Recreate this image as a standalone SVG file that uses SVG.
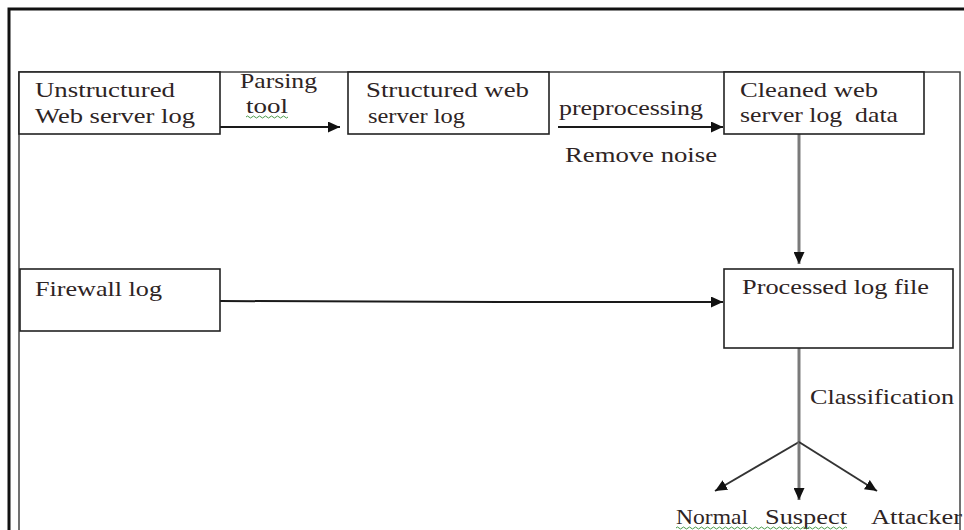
<svg xmlns="http://www.w3.org/2000/svg" width="964" height="530" viewBox="0 0 964 530">
<defs>
<style>
.box{fill:#fff;stroke:#222;stroke-width:1.6}
.t{font-family:"Liberation Serif","Times New Roman",serif;font-size:21px;fill:#2e2424}
.ln{fill:none;stroke:#1a1a1a;stroke-width:2}
.gr{fill:none;stroke:#7a7a7a;stroke-width:3}
.br{fill:none;stroke:#333;stroke-width:2}
.wave{fill:none;stroke:#4a9a4a;stroke-width:1}
</style>
<marker id="ah" markerUnits="userSpaceOnUse" markerWidth="13" markerHeight="11" refX="12" refY="5.5" orient="auto">
<path d="M0,0 L12,5.5 L0,11 z" fill="#111"/>
</marker>
</defs>
<rect width="964" height="530" fill="#fff"/>
<g id="frame">
<path d="M9,540 V9 H970" fill="none" stroke="#111" stroke-width="3"/>
<path d="M19,540 V72 H960 V540" fill="none" stroke="#444" stroke-width="1.5"/>
</g>
<g id="connectors">
<line class="ln" x1="220" y1="127" x2="340" y2="127" marker-end="url(#ah)"/>
<line class="ln" x1="558" y1="127" x2="723" y2="127" marker-end="url(#ah)"/>
<line class="gr" x1="799" y1="134" x2="799" y2="264" marker-end="url(#ah)"/>
<path class="ln" d="M220,301 L500,302 L723,302" marker-end="url(#ah)"/>
<line class="gr" x1="799" y1="348" x2="799" y2="442"/>
<line class="br" x1="799" y1="442" x2="715" y2="491" marker-end="url(#ah)"/>
<line class="gr" x1="799" y1="442" x2="799" y2="500" marker-end="url(#ah)"/>
<line class="br" x1="799" y1="442" x2="877" y2="491" marker-end="url(#ah)"/>
<text class="t" x="240" y="88" textLength="77" lengthAdjust="spacingAndGlyphs">Parsing</text>
<text class="t" x="246" y="113" textLength="42" lengthAdjust="spacingAndGlyphs">tool</text>
<path class="wave" d="M246,117 q1.5,-2 3,0 t3,0 t3,0 t3,0 t3,0 t3,0 t3,0 t3,0 t3,0 t3,0 t3,0 t3,0 t3,0 t3,0"/>
<text class="t" x="559" y="115" textLength="144" lengthAdjust="spacingAndGlyphs">preprocessing</text>
<text class="t" x="565" y="162" textLength="152" lengthAdjust="spacingAndGlyphs">Remove noise</text>
<text class="t" x="810" y="404" textLength="144" lengthAdjust="spacingAndGlyphs">Classification</text>
</g>
<g id="n-unstructured">
<rect class="box" x="19" y="72" width="201" height="62"/>
<text class="t" x="35" y="97" textLength="140" lengthAdjust="spacingAndGlyphs">Unstructured</text>
<text class="t" x="35" y="123" textLength="160" lengthAdjust="spacingAndGlyphs">Web server log</text>
</g>
<g id="n-structured">
<rect class="box" x="348" y="72" width="201" height="62"/>
<text class="t" x="366" y="97" textLength="163" lengthAdjust="spacingAndGlyphs">Structured web</text>
<text class="t" x="368" y="123" textLength="97" lengthAdjust="spacingAndGlyphs">server log</text>
</g>
<g id="n-cleaned">
<rect class="box" x="724" y="72" width="200" height="62"/>
<text class="t" x="740" y="97" textLength="138" lengthAdjust="spacingAndGlyphs">Cleaned web</text>
<text class="t" x="740" y="122" textLength="158" lengthAdjust="spacingAndGlyphs" xml:space="preserve">server log  data</text>
</g>
<g id="n-firewall">
<rect class="box" x="20" y="269" width="200" height="62"/>
<text class="t" x="35" y="296" textLength="127" lengthAdjust="spacingAndGlyphs">Firewall log</text>
</g>
<g id="n-processed">
<rect class="box" x="724" y="269" width="229" height="79"/>
<text class="t" x="742" y="294" textLength="187" lengthAdjust="spacingAndGlyphs">Processed log file</text>
</g>
<g id="n-normal">
<text class="t" x="676" y="524" textLength="72" lengthAdjust="spacingAndGlyphs">Normal</text>
</g>
<g id="n-suspect">
<text class="t" x="765" y="524" textLength="82" lengthAdjust="spacingAndGlyphs">Suspect</text>
</g>
<g id="n-attacker">
<text class="t" x="871" y="524" textLength="91" lengthAdjust="spacingAndGlyphs">Attacker</text>
</g>
<path class="wave" d="M676,528 q1.5,-2 3,0 t3,0 t3,0 t3,0 t3,0 t3,0 t3,0 t3,0 t3,0 t3,0 t3,0 t3,0 t3,0 t3,0 t3,0 t3,0 t3,0 t3,0 t3,0 t3,0 t3,0 t3,0 t3,0 t3,0 t3,0 t3,0 t3,0 t3,0 t3,0 t3,0 t3,0 t3,0 t3,0 t3,0 t3,0 t3,0 t3,0 t3,0 t3,0 t3,0 t3,0 t3,0 t3,0 t3,0 t3,0 t3,0 t3,0 t3,0 t3,0 t3,0 t3,0 t3,0 t3,0 t3,0 t3,0 t3,0 t3,0"/>
</svg>
